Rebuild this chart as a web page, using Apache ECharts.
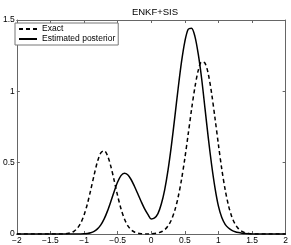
<!DOCTYPE html>
<html><head><meta charset="utf-8">
<script src="https://cdn.jsdelivr.net/npm/echarts@6/dist/echarts.min.js"></script>
<style>html,body{margin:0;padding:0;background:#fff}#c{width:291px;height:245px}</style>
</head><body><div id="c"></div>
<script>
const xValues = [-2,-1.95,-1.9,-1.85,-1.8,-1.75,-1.7,-1.65,-1.6,-1.55,-1.5,-1.45,-1.4,-1.35,-1.3,-1.25,-1.2,-1.15,-1.1,-1.05,-1,-0.95,-0.9,-0.85,-0.8,-0.75,-0.7,-0.65,-0.6,-0.55,-0.5,-0.45,-0.4,-0.35,-0.3,-0.25,-0.2,-0.15,-0.1,-0.05,0,0.05,0.1,0.15,0.2,0.25,0.3,0.35,0.4,0.45,0.5,0.55,0.6,0.65,0.7,0.75,0.8,0.85,0.9,0.95,1,1.05,1.1,1.15,1.2,1.25,1.3,1.35,1.4,1.45,1.5,1.55,1.6,1.65,1.7,1.75,1.8,1.85,1.9,1.95,2];
const exactValues = [0,0,0,0,0,0,0,0,0,0,0,0,
  0.0001,0.0004,0.0012,0.0033,0.0083,0.019,0.0395,0.0755,0.132,
  0.211,0.309,0.413,0.507,0.569,0.584,0.549,0.472,0.372,0.268,
  0.177,0.107,0.059,0.030,0.014,0.006,0.0025,0.001,0.0006,0.0016,
  0.0034,0.0075,0.0155,0.030,0.0565,0.099,0.164,0.257,0.380,0.530,
  0.700,0.873,1.029,1.147,1.207,1.198,1.119,0.981,0.808,0.626,
  0.455,0.311,0.199,0.120,0.068,0.036,0.018,0.0085,0.0037,0.0015,
  0.0006,0.0002,0,0,0,0,0,0,0,0];
const estimatedValues = [0,0,0,0,0,0,0,0,0,0,0,0,0,0,0,0,0,0,0.0003,0.0008,
  0.002,0.004,0.009,0.019,0.036,0.064,0.106,0.162,0.229,0.300,
  0.364,0.409,0.425,0.415,0.382,0.335,0.282,0.228,0.178,0.138,
  0.106,0.113,0.143,0.21,0.31,0.448,0.62,0.816,1.018,1.204,
  1.349,1.435,1.443,1.385,1.26,1.09,0.88,0.67,0.48,0.32,
  0.195,0.115,0.068,0.042,0.026,0.016,0.010,0.006,0.003,0.001,
  0,0,0,0,0,0,0,0,0,0,0];
const seriesNames = ['Exact','Estimated posterior'];
const titleText = 'ENKF+SIS';

const chart = echarts.init(document.getElementById('c'), null, {renderer:'canvas'});
const font = '"Liberation Sans", Arial, Helvetica, sans-serif';
const fmt = v => String(v).replace('-', '\u2212');
const axisColor = '#666';
const pair = (ys) => xValues.map((x, i) => [x, ys[i]]);
const baseX = {type:'value', min:-2, max:2, interval:0.5,
  axisLine:{show:true,onZero:false,lineStyle:{color:axisColor,width:1}},
  axisTick:{show:true,inside:true,length:3,lineStyle:{color:axisColor}},
  splitLine:{show:false}};
const baseY = {type:'value', min:0, max:1.5, interval:0.5,
  axisLine:{show:true,onZero:false,lineStyle:{color:axisColor,width:1}},
  axisTick:{show:true,inside:true,length:3,lineStyle:{color:axisColor}},
  splitLine:{show:false}};
const option = {
  animation:false,
  title:{text:titleText, left:150, top:2, textAlign:'center',
    textStyle:{fontSize:9.5,fontWeight:'normal',color:'#000',fontFamily:font}},
  legend:{orient:'vertical', left:15, top:23, padding:[1.5,3,1.5,3], itemGap:1,
    itemWidth:18, itemHeight:10, backgroundColor:'#fff', borderColor:'#777',
    borderWidth:1, borderRadius:0,
    itemStyle:{color:'transparent', borderColor:'transparent', borderWidth:0, opacity:0},
    textStyle:{fontSize:8.5,color:'#000',fontFamily:font},
    data:seriesNames},
  grid:{left:14,right:5,top:20,bottom:11},
  xAxis:[
    Object.assign({}, baseX, {position:'bottom',
      axisLabel:{margin:2,fontSize:8.5,color:'#000',fontFamily:font,formatter:fmt}}),
    Object.assign({}, baseX, {position:'top', axisLabel:{show:false}})
  ],
  yAxis:[
    Object.assign({}, baseY, {position:'left',
      axisLabel:{margin:2,fontSize:8.5,color:'#000',fontFamily:font,formatter:fmt}}),
    Object.assign({}, baseY, {position:'right', axisLabel:{show:false}})
  ],
  series:[
    {name:seriesNames[0], type:'line', data:pair(exactValues), symbol:'none',
      smooth:0.3, lineStyle:{color:'#000',width:1.5,type:[4,3]}, itemStyle:{color:'#000'}},
    {name:seriesNames[1], type:'line', data:pair(estimatedValues), symbol:'none',
      smooth:0.3, lineStyle:{color:'#000',width:1.5,type:'solid'}, itemStyle:{color:'#000'}}
  ]
};
chart.setOption(option);
</script></body></html>
